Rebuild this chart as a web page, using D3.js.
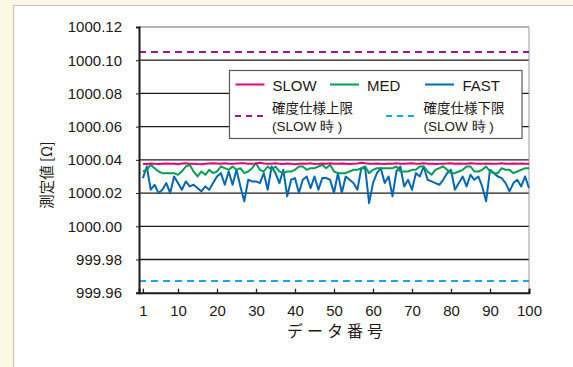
<!DOCTYPE html>
<html><head><meta charset="utf-8">
<script src="https://cdn.jsdelivr.net/npm/d3@7"></script>
<style>
html,body{margin:0;padding:0;background:#fcf8e4;}
svg{display:block;}
</style></head>
<body>
<svg id="c" width="573" height="367"></svg>
<script>
const yTicks = [999.96, 999.98, 1000.00, 1000.02, 1000.04, 1000.06, 1000.08, 1000.10, 1000.12];
const yTickLabels = ["999.96","999.98","1000.00","1000.02","1000.04","1000.06","1000.08","1000.10","1000.12"];
const xTicks = [1,10,20,30,40,50,60,70,80,90,100];
const xTickLabels = ["1","10","20","30","40","50","60","70","80","90","100"];
const upperLimit = 1000.105;
const lowerLimit = 999.967;
const seriesNames = ["SLOW","MED","FAST"];
const limitNames = ["確度仕様上限","確度仕様下限"];

const slow = [1000.0375,1000.0375,1000.0378,1000.0376,1000.0375,1000.0377,1000.0378,1000.0376,1000.0377,1000.0374,
1000.0378,1000.0379,1000.0376,1000.0377,1000.0375,1000.0374,1000.0376,1000.0378,1000.0380,1000.0378,
1000.0376,1000.0379,1000.0377,1000.0376,1000.0378,1000.0380,1000.0379,1000.0377,1000.0376,1000.0378,
1000.0382,1000.0378,1000.0376,1000.0377,1000.0379,1000.0377,1000.0375,1000.0378,1000.0376,1000.0374,
1000.0376,1000.0378,1000.0377,1000.0379,1000.0375,1000.0376,1000.0378,1000.0377,1000.0379,1000.0377,
1000.0376,1000.0378,1000.0376,1000.0375,1000.0377,1000.0378,1000.0383,1000.0379,1000.0377,1000.0376,
1000.0378,1000.0376,1000.0375,1000.0378,1000.0377,1000.0379,1000.0377,1000.0376,1000.0378,1000.0380,
1000.0376,1000.0377,1000.0379,1000.0377,1000.0376,1000.0375,1000.0377,1000.0376,1000.0378,1000.0379,
1000.0377,1000.0378,1000.0376,1000.0377,1000.0380,1000.0378,1000.0376,1000.0377,1000.0378,1000.0376,
1000.0377,1000.0377,1000.0379,1000.0377,1000.0376,1000.0378,1000.0377,1000.0378,1000.0377,1000.0376];

const med = [1000.033,1000.034,1000.037,1000.035,1000.033,1000.032,1000.032,1000.032,1000.032,1000.031,
1000.033,1000.036,1000.037,1000.033,1000.030,1000.033,1000.031,1000.034,1000.032,1000.033,
1000.036,1000.035,1000.034,1000.036,1000.034,1000.035,1000.032,1000.033,1000.035,1000.038,
1000.034,1000.033,1000.036,1000.034,1000.036,1000.033,1000.032,1000.033,1000.033,1000.034,
1000.036,1000.036,1000.034,1000.035,1000.035,1000.036,1000.037,1000.035,1000.037,1000.033,
1000.032,1000.032,1000.032,1000.033,1000.034,1000.034,1000.035,1000.036,1000.032,1000.034,
1000.035,1000.035,1000.035,1000.035,1000.035,1000.036,1000.033,1000.033,1000.033,1000.034,
1000.034,1000.036,1000.036,1000.033,1000.031,1000.034,1000.035,1000.036,1000.034,1000.032,
1000.032,1000.033,1000.034,1000.036,1000.036,1000.033,1000.033,1000.034,1000.036,1000.033,
1000.032,1000.032,1000.035,1000.034,1000.034,1000.032,1000.033,1000.034,1000.035,1000.035];

const fast = [1000.029,1000.036,1000.022,1000.025,1000.020,1000.022,1000.026,1000.020,1000.030,1000.026,
1000.022,1000.027,1000.024,1000.025,1000.023,1000.021,1000.024,1000.022,1000.026,1000.030,
1000.032,1000.025,1000.033,1000.025,1000.034,1000.024,1000.015,1000.028,1000.027,1000.027,
1000.026,1000.032,1000.022,1000.036,1000.032,1000.026,1000.034,1000.018,1000.028,1000.029,
1000.020,1000.028,1000.030,1000.023,1000.030,1000.022,1000.029,1000.029,1000.028,1000.020,
1000.032,1000.020,1000.030,1000.028,1000.026,1000.022,1000.035,1000.035,1000.014,1000.026,
1000.032,1000.035,1000.026,1000.030,1000.018,1000.033,1000.036,1000.024,1000.028,1000.022,
1000.032,1000.030,1000.036,1000.028,1000.027,1000.026,1000.025,1000.028,1000.032,1000.034,
1000.022,1000.026,1000.030,1000.024,1000.031,1000.028,1000.030,1000.024,1000.015,1000.034,
1000.032,1000.030,1000.029,1000.026,1000.021,1000.026,1000.028,1000.024,1000.030,1000.023];

const colors = {SLOW:"#e4007f", MED:"#00a051", FAST:"#0068b7", upper:"#a0168f", lower:"#1aa6e4"};
const ink = "#231815";
const latin = "'Liberation Sans', Arial, sans-serif";
const cjk = "'Noto Sans CJK JP', sans-serif";

const svg = d3.select("#c");
// panel
svg.append("rect").attr("x",13.5).attr("y",5.5).attr("width",620).attr("height",420)
  .attr("fill","#fff").attr("stroke","#c9c6bd").attr("stroke-width",1.2);

const x = d3.scaleLinear().domain([0,100]).range([139,529]);
const y = d3.scaleLinear().domain([999.96,1000.12]).range([292.7,27]);

// gridlines
svg.append("g").selectAll("line").data(yTicks.slice(1,-1)).join("line")
  .attr("x1",x(0)).attr("x2",x(100)).attr("y1",d=>y(d)).attr("y2",d=>y(d))
  .attr("stroke",ink).attr("stroke-width",1.3);
// top & right frame
svg.append("line").attr("x1",x(0)).attr("x2",x(100)).attr("y1",y(1000.12)).attr("y2",y(1000.12))
  .attr("stroke","#6e6a68").attr("stroke-width",1);
svg.append("line").attr("x1",x(100)).attr("x2",x(100)).attr("y1",y(1000.12)).attr("y2",y(999.96))
  .attr("stroke","#9a9796").attr("stroke-width",1);

// limits
svg.append("line").attr("x1",x(0)).attr("x2",x(100)).attr("y1",y(upperLimit)).attr("y2",y(upperLimit))
  .attr("stroke",colors.upper).attr("stroke-width",2).attr("stroke-dasharray","7,5");
svg.append("line").attr("x1",x(0)).attr("x2",x(100)).attr("y1",y(lowerLimit)).attr("y2",y(lowerLimit))
  .attr("stroke",colors.lower).attr("stroke-width",2).attr("stroke-dasharray","7,5");

// series
const line = d3.line().x((d,i)=>x(i+1)).y(d=>y(d));
[["SLOW",slow],["MED",med],["FAST",fast]].slice().reverse().forEach(([n,arr])=>{
  svg.append("path").datum(arr).attr("d",line).attr("fill","none")
    .attr("stroke",colors[n]).attr("stroke-width",2).attr("stroke-linejoin","round");
});

// axes
const xAxis = d3.axisBottom(x).tickValues(xTicks).tickSize(-4).tickPadding(13)
  .tickFormat((d,i)=>xTickLabels[i]);
const gx = svg.append("g").attr("transform",`translate(0,${y(999.96)})`).call(xAxis);
gx.select(".domain").attr("stroke",ink).attr("stroke-width",2);
gx.selectAll(".tick line").attr("stroke",ink).attr("stroke-width",1.3);
gx.selectAll(".tick text").attr("font-family",latin).attr("font-size",15).attr("fill",ink);

const yAxis = d3.axisLeft(y).tickValues(yTicks).tickSize(3).tickPadding(14)
  .tickFormat((d,i)=>yTickLabels[i]);
const gy = svg.append("g").attr("transform",`translate(${x(0)},0)`).call(yAxis);
gy.select(".domain").attr("stroke",ink).attr("stroke-width",2);
gy.selectAll(".tick line").attr("stroke",ink);
gy.selectAll(".tick text").attr("font-family",latin).attr("font-size",15).attr("fill",ink);

// axis titles
svg.append("text").attr("x",337).attr("y",337).attr("text-anchor","middle")
  .attr("font-family",cjk).attr("font-size",16).attr("letter-spacing",4).attr("fill",ink).text("データ番号");
svg.append("text").attr("transform","translate(52,175) rotate(-90)").attr("text-anchor","middle")
  .attr("font-family",cjk).attr("font-size",14.5).attr("fill",ink).text("測定値 [Ω]");

// legend
const lg = svg.append("g");
lg.append("rect").attr("x",229.5).attr("y",70.5).attr("width",292.5).attr("height",68)
  .attr("fill","#fff").attr("stroke","#595757").attr("stroke-width",1.2);
const row1 = [{n:"SLOW",x1:235.5,tx:272.5},{n:"MED",x1:330,tx:367},{n:"FAST",x1:425,tx:462.5}];
row1.forEach(r=>{
  lg.append("line").attr("x1",r.x1).attr("x2",r.x1+29).attr("y1",84.5).attr("y2",84.5)
    .attr("stroke",colors[r.n]).attr("stroke-width",2);
  lg.append("text").attr("x",r.tx).attr("y",90.5).attr("font-family",latin).attr("font-size",15)
    .attr("fill",ink).text(r.n);
});
const row2 = [{k:"upper",name:limitNames[0],x1:235,tx:272},{k:"lower",name:limitNames[1],x1:386,tx:423.5}];
row2.forEach(r=>{
  lg.append("line").attr("x1",r.x1).attr("x2",r.x1+30).attr("y1",116).attr("y2",116)
    .attr("stroke",colors[r.k]).attr("stroke-width",2).attr("stroke-dasharray","6,5");
  lg.append("text").attr("x",r.tx).attr("y",113).attr("font-family",cjk).attr("font-size",13.5)
    .attr("fill",ink).text(r.name);
  const t = lg.append("text").attr("x",r.tx).attr("y",130.5).attr("font-family",latin).attr("font-size",13.5)
    .attr("fill",ink);
  t.append("tspan").text("(SLOW ");
  t.append("tspan").text("時");
  t.append("tspan").text(" )");
});
</script>
</body></html>
